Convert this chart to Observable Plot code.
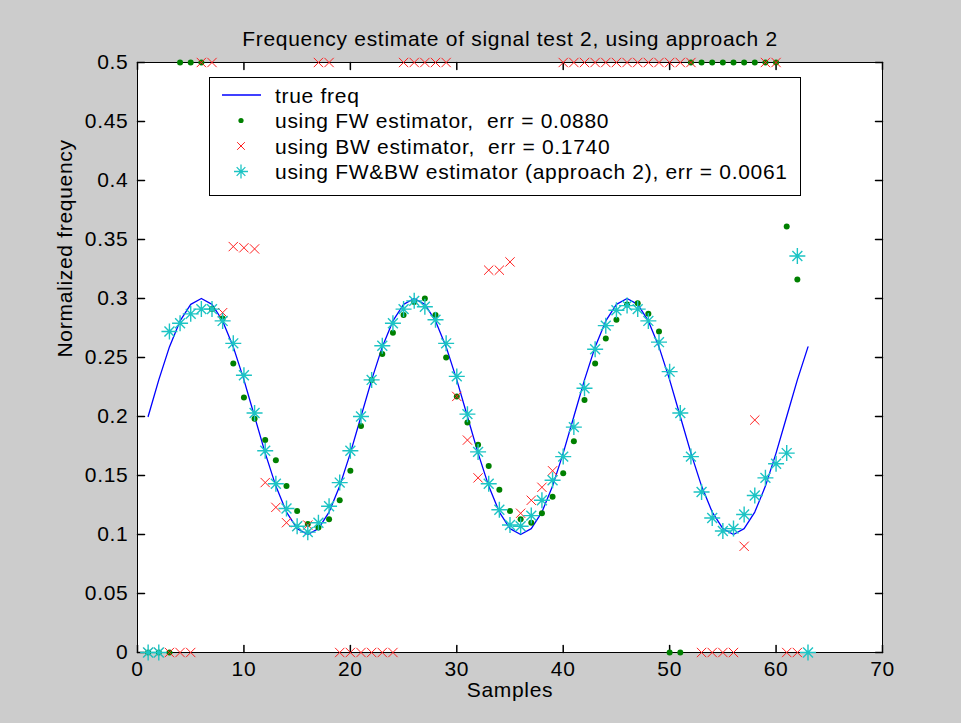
<!DOCTYPE html>
<html><head><meta charset="utf-8">
<script src="https://cdn.jsdelivr.net/npm/d3@7"></script>
<script src="https://cdn.jsdelivr.net/npm/@observablehq/plot@0.6"></script>
<style>
html,body{margin:0;padding:0;background:#cccccc;}
#chart{width:961px;height:723px;}
</style></head><body><div id="chart"></div>
<script>
const samples = [1,2,3,4,5,6,7,8,9,10,11,12,13,14,15,16,17,18,19,20,21,22,23,24,25,26,27,28,29,30,31,32,33,34,35,36,37,38,39,40,41,42,43,44,45,46,47,48,49,50,51,52,53,54,55,56,57,58,59,60,61,62,63];
const trueFreq = [0.200,0.231,0.259,0.281,0.295,0.300,0.295,0.281,0.259,0.231,0.200,0.169,0.141,0.119,0.105,0.100,0.105,0.119,0.141,0.169,
  0.200,0.231,0.259,0.281,0.295,0.300,0.295,0.281,0.259,0.231,0.200,0.169,0.141,0.119,0.105,0.100,0.105,0.119,0.141,0.169,
  0.200,0.231,0.259,0.281,0.295,0.300,0.295,0.281,0.259,0.231,0.200,0.169,0.141,0.119,0.105,0.100,0.105,0.119,0.141,0.169,
  0.200,0.231,0.259];
const fwEst = [0,0,0,0.5,0.5,0.5,0.291,0.283,0.245,0.216,0.198,0.180,0.163,0.141,0.120,0.109,0.106,0.113,0.129,0.154,
  0.192,0.231,0.253,0.271,0.286,0.297,0.300,0.286,0.250,0.217,0.195,0.176,0.158,0.138,0.120,0.113,0.110,0.118,0.132,0.152,
  0.179,0.214,0.245,0.266,0.282,0.295,0.296,0.287,0.272,0,0,0.5,0.5,0.5,0.5,0.5,0.5,0.5,0.5,0.5,
  0.361,0.316,null];
const bwEst = [0,0,0,0,0,0.5,0.5,0.288,0.344,0.343,0.342,0.144,0.123,0.110,0.107,0.108,0.5,0.5,0,0,
  0,0,0,0,0.5,0.5,0.5,0.5,0.5,0.217,0.180,0.148,0.324,0.324,0.331,0.118,0.129,0.140,0.154,0.5,
  0.5,0.5,0.5,0.5,0.5,0.5,0.5,0.5,0.5,0.5,0.5,0.5,0,0,0,0,0.090,0.197,0.5,0.5,
  0,0,null];
const fwbwEst = [0,0,0.272,0.279,0.287,0.291,0.291,0.281,0.262,0.235,0.203,0.171,0.143,0.122,0.107,0.102,0.110,0.124,0.144,0.171,
  0.200,0.231,0.260,0.279,0.291,0.298,0.293,0.282,0.262,0.234,0.202,0.170,0.143,0.121,0.108,0.107,0.116,0.129,0.146,0.166,
  0.191,0.224,0.257,0.277,0.290,0.294,0.291,0.281,0.263,0.238,0.203,0.166,0.136,0.114,0.103,0.105,0.117,0.133,0.148,0.160,
  0.169,0.336,0];
const xTicks = [0,10,20,30,40,50,60,70];
const yTicks = [0,0.05,0.1,0.15,0.2,0.25,0.3,0.35,0.4,0.45,0.5];
const yTickLabels = ["0","0.05","0.1","0.15","0.2","0.25","0.3","0.35","0.4","0.45","0.5"];
const legendLabels = ["true freq","using FW estimator,  err = 0.0880","using BW estimator,  err = 0.1740","using FW&BW estimator (approach 2), err = 0.0061"];
const titleText = "Frequency estimate of signal test 2, using approach 2";
const xLabel = "Samples";
const yLabel = "Normalized frequency";

const rows = samples.map((n, i) => ({n, truth: trueFreq[i], fw: fwEst[i], bw: bwEst[i], fwbw: fwbwEst[i]}));

const C_LINE = "#0000ff", C_FW = "#008000", C_BW = "#ff2020", C_FWBW = "#1cc4c4";
const FONT = "'Liberation Sans', Arial, sans-serif";

const starSymbol = {
  draw(ctx, size) {
    const r = Math.sqrt(size / Math.PI);
    const d = r * 0.62;
    ctx.moveTo(-r, 0); ctx.lineTo(r, 0);
    ctx.moveTo(0, -r); ctx.lineTo(0, r);
    ctx.moveTo(-d, -d); ctx.lineTo(d, d);
    ctx.moveTo(-d, d); ctx.lineTo(d, -d);
  }
};
const tickShape = { draw(ctx, l) { ctx.moveTo(0, 0); ctx.lineTo(0, -l); } };

function legendMark(index, scales, values, dim) {
  const x0 = dim.marginLeft + 72, y0 = dim.marginTop + 15, w = 591, h = 118;
  const g = d3.create("svg:g").attr("text-anchor", "start");
  g.append("rect").attr("x", x0 + 0.5).attr("y", y0 + 0.5).attr("width", w).attr("height", h)
    .attr("fill", "white").attr("stroke", "black").attr("stroke-width", 1);
  const rowY = [18, 43.5, 69, 94.5];
  const sx = x0 + 32;
  legendLabels.forEach((lab, i) => {
    const cy = y0 + rowY[i];
    if (i === 0) {
      g.append("line").attr("x1", x0 + 13).attr("x2", x0 + 52).attr("y1", cy).attr("y2", cy)
        .attr("stroke", C_LINE).attr("stroke-width", 1.3);
    } else if (i === 1) {
      g.append("circle").attr("cx", sx).attr("cy", cy).attr("r", 2.6).attr("fill", C_FW);
    } else if (i === 2) {
      g.append("path").attr("transform", `translate(${sx},${cy})`)
        .attr("d", d3.symbol(d3.symbolTimes, 40)()).attr("fill", "none").attr("stroke", C_BW).attr("stroke-width", 1);
    } else {
      g.append("path").attr("transform", `translate(${sx},${cy})`)
        .attr("d", d3.symbol(starSymbol, Math.PI * 49)()).attr("fill", "none").attr("stroke", C_FWBW).attr("stroke-width", 1.3);
    }
    g.append("text").attr("x", x0 + 66).attr("y", cy).attr("dy", "0.36em").attr("text-anchor", "start")
      .attr("fill", "black").style("white-space", "pre").text(lab);
  });
  return g.node();
}

const chart = Plot.plot({
  width: 961, height: 723,
  marginLeft: 137, marginRight: 79, marginTop: 62, marginBottom: 71,
  style: {background: "#cccccc", fontFamily: FONT, fontSize: "21px", color: "black", letterSpacing: "0.7px"},
  x: {domain: [0, 70], axis: null},
  y: {domain: [0, 0.5], axis: null},
  marks: [
    Plot.frame({fill: "white", stroke: "black", strokeWidth: 1}),
    Plot.vector(xTicks, {x: d => d, y: () => 0, length: 7, rotate: 0, anchor: "start", shape: tickShape, stroke: "black"}),
    Plot.vector(xTicks, {x: d => d, y: () => 0.5, length: 7, rotate: 180, anchor: "start", shape: tickShape, stroke: "black"}),
    Plot.vector(yTicks, {y: d => d, x: () => 0, length: 7, rotate: 90, anchor: "start", shape: tickShape, stroke: "black"}),
    Plot.vector(yTicks, {y: d => d, x: () => 70, length: 7, rotate: 270, anchor: "start", shape: tickShape, stroke: "black"}),
    Plot.axisX(xTicks, {tickSize: 0, tickPadding: 9, tickFormat: d => String(d), label: null, fill: "black"}),
    Plot.axisY(yTicks, {tickSize: 0, tickPadding: 9, tickFormat: d => yTickLabels[yTicks.indexOf(d)], label: null, fill: "black"}),
    Plot.text([titleText], {text: d => d, frameAnchor: "top", dy: -31, fill: "black"}),
    Plot.text([xLabel], {text: d => d, frameAnchor: "bottom", dy: 44, fill: "black"}),
    Plot.text([yLabel], {text: d => d, frameAnchor: "left", dx: -72, rotate: -90, fill: "black"}),
    Plot.line(rows, {x: "n", y: "truth", stroke: C_LINE, strokeWidth: 1.3}),
    Plot.dot(rows, {x: "n", y: "fw", r: 3, symbol: "circle", fill: C_FW, stroke: null}),
    Plot.dot(rows, {x: "n", y: "bw", r: 4.3, symbol: "times", stroke: C_BW, strokeWidth: 1}),
    Plot.dot(rows, {x: "n", y: "fwbw", r: 8, symbol: starSymbol, stroke: C_FWBW, strokeWidth: 1.4, fill: "none"}),
    legendMark
  ]
});
document.getElementById("chart").append(chart);
</script>
</body></html>
